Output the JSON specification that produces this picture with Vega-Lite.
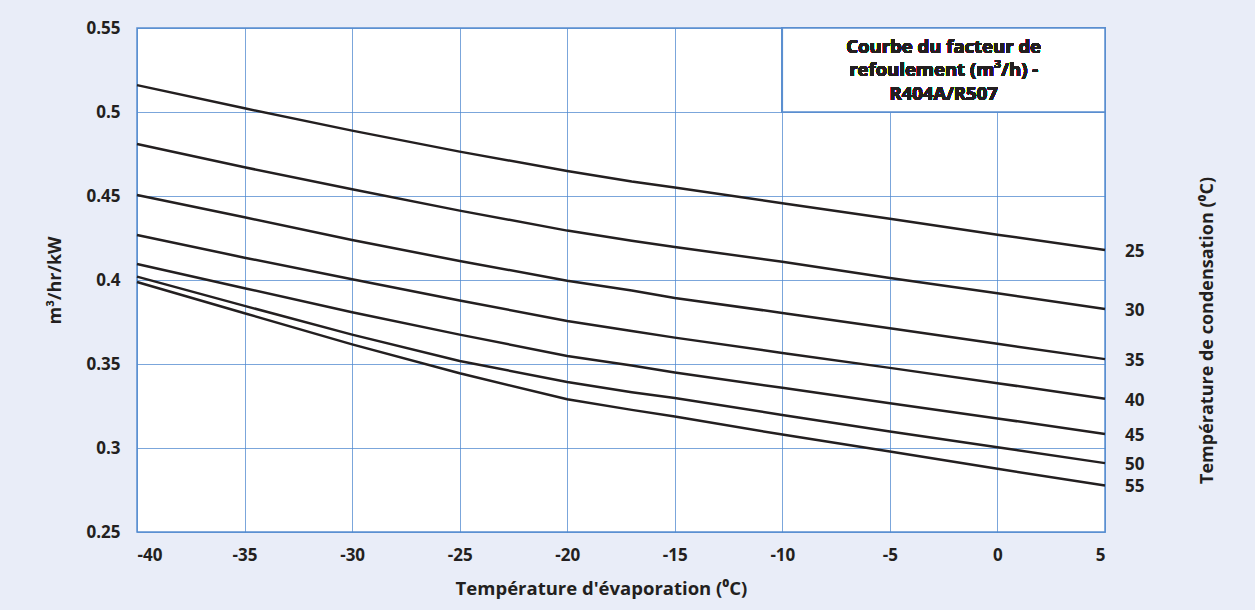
{
  "$schema": "https://vega.github.io/schema/vega-lite/v6.json",
  "width": 968,
  "height": 504,
  "autosize": {"type": "none"},
  "padding": {"left": 137, "top": 28, "right": 150, "bottom": 78},
  "background": "#E9EDF8",
  "config": {
    "font": "Open Sans",
    "view": {"fill": "white", "stroke": "#5B8FD0", "strokeWidth": 1.5},
    "axis": {
      "labelFont": "Open Sans", "labelFontWeight": "bold", "labelFontSize": 17, "labelColor": "#231F20",
      "titleFont": "Open Sans", "titleFontWeight": "bold", "titleFontSize": 18, "titleColor": "#231F20",
      "gridColor": "#4F88CF", "gridOpacity": 0.75, "gridWidth": 1,
      "ticks": false, "domain": false
    }
  },
  "data": {
    "values": [
      {"x": -40, "t": 25, "v": 0.516}, {"x": -35, "t": 25, "v": 0.5022}, {"x": -30, "t": 25, "v": 0.4889}, {"x": -25, "t": 25, "v": 0.4764}, {"x": -20, "t": 25, "v": 0.4649}, {"x": -17, "t": 25, "v": 0.4586}, {"x": -15, "t": 25, "v": 0.455}, {"x": -10, "t": 25, "v": 0.4457}, {"x": -5, "t": 25, "v": 0.4364}, {"x": 0, "t": 25, "v": 0.427}, {"x": 5, "t": 25, "v": 0.4179},
      {"x": -40, "t": 30, "v": 0.481}, {"x": -35, "t": 30, "v": 0.4671}, {"x": -30, "t": 30, "v": 0.454}, {"x": -25, "t": 30, "v": 0.4413}, {"x": -20, "t": 30, "v": 0.4294}, {"x": -17, "t": 30, "v": 0.4234}, {"x": -15, "t": 30, "v": 0.4197}, {"x": -10, "t": 30, "v": 0.4108}, {"x": -5, "t": 30, "v": 0.4012}, {"x": 0, "t": 30, "v": 0.3921}, {"x": 5, "t": 30, "v": 0.3828},
      {"x": -40, "t": 35, "v": 0.4506}, {"x": -35, "t": 35, "v": 0.4373}, {"x": -30, "t": 35, "v": 0.4238}, {"x": -25, "t": 35, "v": 0.4113}, {"x": -20, "t": 35, "v": 0.3996}, {"x": -17, "t": 35, "v": 0.3937}, {"x": -15, "t": 35, "v": 0.3893}, {"x": -10, "t": 35, "v": 0.3804}, {"x": -5, "t": 35, "v": 0.3713}, {"x": 0, "t": 35, "v": 0.362}, {"x": 5, "t": 35, "v": 0.3529},
      {"x": -40, "t": 40, "v": 0.4268}, {"x": -35, "t": 40, "v": 0.4133}, {"x": -30, "t": 40, "v": 0.4005}, {"x": -25, "t": 40, "v": 0.3878}, {"x": -20, "t": 40, "v": 0.3756}, {"x": -17, "t": 40, "v": 0.3697}, {"x": -15, "t": 40, "v": 0.3657}, {"x": -10, "t": 40, "v": 0.3566}, {"x": -5, "t": 40, "v": 0.3477}, {"x": 0, "t": 40, "v": 0.3386}, {"x": 5, "t": 40, "v": 0.3293},
      {"x": -40, "t": 45, "v": 0.4095}, {"x": -35, "t": 45, "v": 0.3951}, {"x": -30, "t": 45, "v": 0.3808}, {"x": -25, "t": 45, "v": 0.3675}, {"x": -20, "t": 45, "v": 0.3548}, {"x": -17, "t": 45, "v": 0.3491}, {"x": -15, "t": 45, "v": 0.3449}, {"x": -10, "t": 45, "v": 0.3358}, {"x": -5, "t": 45, "v": 0.3267}, {"x": 0, "t": 45, "v": 0.3176}, {"x": 5, "t": 45, "v": 0.3084},
      {"x": -40, "t": 50, "v": 0.402}, {"x": -35, "t": 50, "v": 0.3846}, {"x": -30, "t": 50, "v": 0.3675}, {"x": -25, "t": 50, "v": 0.3518}, {"x": -20, "t": 50, "v": 0.3393}, {"x": -17, "t": 50, "v": 0.3332}, {"x": -15, "t": 50, "v": 0.3297}, {"x": -10, "t": 50, "v": 0.3197}, {"x": -5, "t": 50, "v": 0.3098}, {"x": 0, "t": 50, "v": 0.3005}, {"x": 5, "t": 50, "v": 0.291},
      {"x": -40, "t": 55, "v": 0.3988}, {"x": -35, "t": 55, "v": 0.3802}, {"x": -30, "t": 55, "v": 0.3617}, {"x": -25, "t": 55, "v": 0.3445}, {"x": -20, "t": 55, "v": 0.329}, {"x": -17, "t": 55, "v": 0.3227}, {"x": -15, "t": 55, "v": 0.3187}, {"x": -10, "t": 55, "v": 0.308}, {"x": -5, "t": 55, "v": 0.2979}, {"x": 0, "t": 55, "v": 0.2876}, {"x": 5, "t": 55, "v": 0.2777}
    ]
  },
  "resolve": {"axis": {"y": "independent"}},
  "layer": [
    {
      "mark": {"type": "line", "color": "#231F20", "strokeWidth": 2.5},
      "encoding": {
        "x": {"field": "x", "type": "quantitative", "scale": {"domain": [-40, 5], "nice": false, "zero": false},
              "axis": {"values": [-40, -35, -30, -25, -20, -15, -10, -5, 0, 5], "labelExpr": "'' + datum.value", "labelPadding": 15, "title": "Température d'évaporation (⁰C)", "titleFontSize": 18.5, "titlePadding": 16, "titleX": 464, "titleAlign": "center"}},
        "y": {"field": "v", "type": "quantitative", "scale": {"domain": [0.25, 0.55], "nice": false, "zero": false},
              "axis": {"values": [0.25, 0.3, 0.35, 0.4, 0.45, 0.5, 0.55], "labelExpr": "'' + datum.value", "labelPadding": 17, "title": "m³/hr/kW", "titlePadding": 21}},
        "detail": {"field": "t", "type": "nominal"}
      }
    },
    {
      "mark": {"type": "rect", "fill": "white", "stroke": "#5B8FD0", "strokeWidth": 1.5},
      "encoding": {
        "x": {"datum": -10}, "x2": {"datum": 5},
        "y": {"datum": 0.5, "type": "quantitative", "axis": {"orient": "right", "labels": false, "grid": false, "title": "Température de condensation (⁰C)", "titleAngle": 270, "titlePadding": 111, "titleY": 302, "titleAlign": "center"}},
        "y2": {"datum": 0.55}
      }
    },
    {
      "mark": {"type": "text", "font": "Open Sans", "fontWeight": "bold", "fontSize": 18.5, "color": "#231F20", "align": "center", "baseline": "middle", "lineBreak": "\n", "lineHeight": 23.5},
      "encoding": {
        "x": {"datum": -2.5},
        "y": {"datum": 0.5387, "type": "quantitative", "axis": null},
        "text": {"value": "Courbe du facteur de\nrefoulement (m³/h) -\nR404A/R507"}
      }
    },
    {
      "transform": [{"filter": "datum.x == 5"}],
      "mark": {"type": "text", "font": "Open Sans", "fontWeight": "bold", "fontSize": 17, "color": "#231F20", "align": "left", "baseline": "middle", "dx": 20, "dy": 2},
      "encoding": {
        "x": {"field": "x", "type": "quantitative"},
        "y": {"field": "v", "type": "quantitative", "axis": null},
        "text": {"field": "t", "type": "nominal"}
      }
    }
  ]
}
